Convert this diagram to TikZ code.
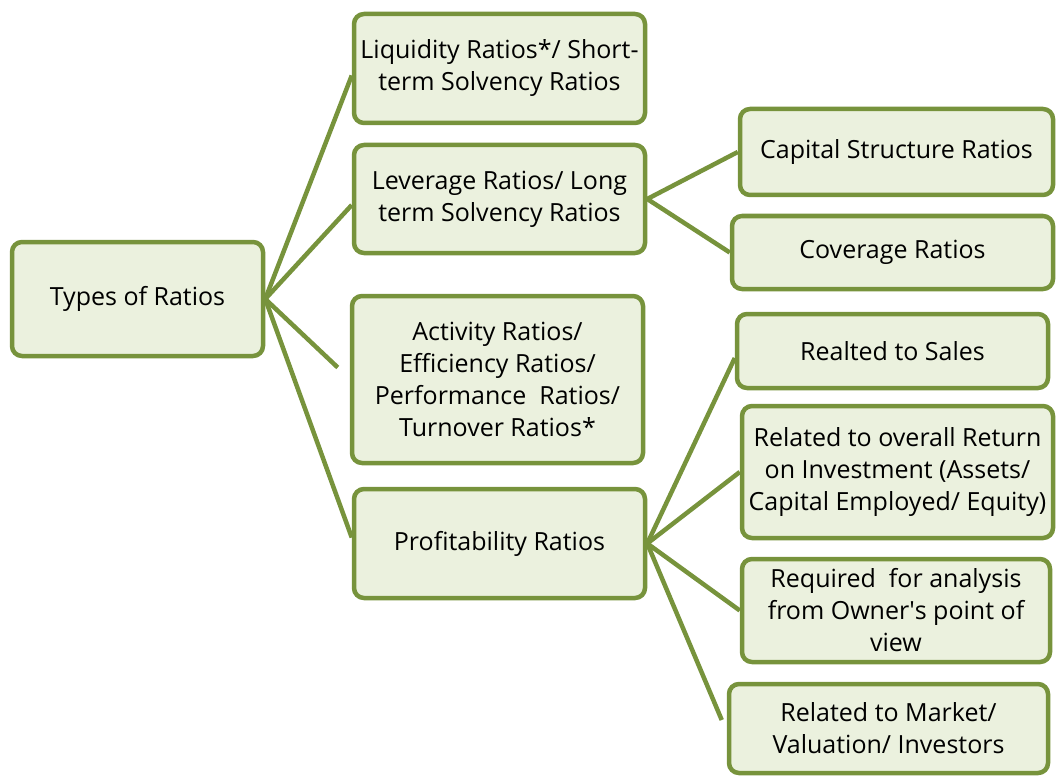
\documentclass[tikz,border=0pt]{standalone}
\usepackage{fontspec}
\setmainfont{Open Sans}
\definecolor{edgegreen}{HTML}{77933C}
\definecolor{boxfill}{HTML}{EBF1DE}
\newcommand{\straightapos}{\XeTeXglyph\XeTeXcharglyph"27\relax}
\begin{document}
\begin{tikzpicture}[x=1pt,y=-1pt,
  box/.style={draw=edgegreen, fill=boxfill, line width=4.5pt, rounded corners=10pt,
    align=center, inner sep=0pt, font=\fontsize{25}{32}\selectfont, text=black},
  link/.style={draw=edgegreen, line width=4.5pt}]
\useasboundingbox (0,0) rectangle (1057,778);
\node[box, minimum width=251pt, minimum height=114pt] (root) at (137.5,299) {Types of Ratios};
\node[box, minimum width=291pt, minimum height=109pt] (liq) at (499.5,68.5) {Liquidity Ratios*/ Short-\\term Solvency Ratios};
\node[box, minimum width=291pt, minimum height=108pt] (lev) at (499.5,199) {Leverage Ratios/ Long\\term Solvency Ratios};
\node[box, minimum width=291pt, minimum height=167pt] (act) at (497.5,379.5) {Activity Ratios/\\Efficiency Ratios/\\Performance\ \ Ratios/\\Turnover Ratios*};
\node[box, minimum width=291pt, minimum height=109pt] (prof) at (499.5,543.5) {Profitability Ratios};
\node[box, minimum width=313pt, minimum height=86pt] (cap) at (896.5,152) {Capital Structure Ratios};
\node[box, minimum width=321pt, minimum height=73pt] (cov) at (892.5,252.5) {Coverage Ratios};
\node[box, minimum width=311pt, minimum height=74pt] (sales) at (892.5,351) {Realted to Sales};
\node[box, minimum width=311pt, minimum height=132pt] (roi) at (897.5,472) {Related to overall Return\\on Investment (Assets/\\Capital Employed/ Equity)};
\node[box, minimum width=308pt, minimum height=103pt] (req) at (896,610.5) {Required\ \ for analysis\\from Owner\straightapos s point of\\view};
\node[box, minimum width=319pt, minimum height=89pt] (mkt) at (888.5,728.5) {Related to Market/\\Valuation/ Investors};
\draw[link] (root.east) -- ([yshift=-7pt]liq.west);
\draw[link] (root.east) -- ([yshift=-6pt]lev.west);
\draw[link] (root.east) -- ([xshift=-12pt,yshift=12pt]act.west);
\draw[link] (root.east) -- ([yshift=6pt]prof.west);
\draw[link] (lev.east) -- (cap.west);
\draw[link] (lev.east) -- (cov.west);
\draw[link] (prof.east) -- ([yshift=-7pt]sales.west);
\draw[link] (prof.east) -- (roi.west);
\draw[link] (prof.east) -- (req.west);
\draw[link] (prof.east) -- ([xshift=-5pt,yshift=8.5pt]mkt.west);
\end{tikzpicture}
\end{document}
